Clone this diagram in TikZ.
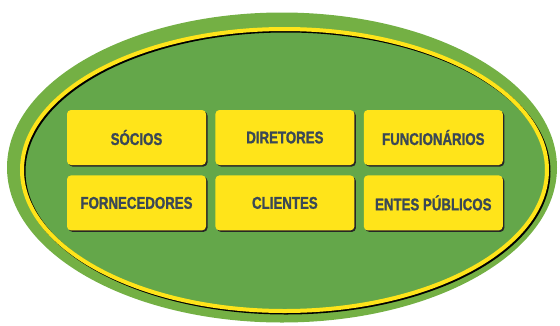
\documentclass[tikz,border=0pt]{standalone}
\usepackage{fontspec}
\newfontfamily\caixafont[FakeStretch=0.78,FakeBold=1.2]{Liberation Sans}
\usetikzlibrary{positioning,shadows}
\definecolor{verdefora}{HTML}{74B044}
\definecolor{verdedentro}{HTML}{64A74A}
\definecolor{amarelo}{HTML}{FFE41A}
\definecolor{textocaixa}{HTML}{3A4856}

\begin{document}
\begin{tikzpicture}[x=1pt,y=1pt,
    caixa/.style={rectangle, rounded corners=4pt, fill=amarelo,
        minimum width=139pt, minimum height=55pt, inner sep=0pt,
        general shadow={fill=black!85, shadow xshift=1.5pt, shadow yshift=-1.5pt},
        font=\caixafont\bfseries\fontsize{17}{17}\selectfont, text=textocaixa},
    node distance=10pt and 9pt]
    \useasboundingbox (0,0) rectangle (560,-325);

    % elipse verde com anel amarelo
    \fill[verdefora] (282,-167.5) ellipse [x radius=275, y radius=155];
    \fill[verdedentro] (284.5,-170) ellipse [x radius=260, y radius=139];
    \draw[black, line width=4pt] (286,-171.5) ellipse [x radius=262.5, y radius=141];
    \draw[amarelo, line width=4pt] (284.5,-170) ellipse [x radius=262.5, y radius=141];

    \node[caixa] (socios) at (136.5,-137.5) {SÓCIOS};
    \node[caixa, right=of socios] (diretores) {DIRETORES};
    \node[caixa, right=of diretores] (funcionarios) {FUNCIONÁRIOS};
    \node[caixa, below=of socios] (fornecedores) {FORNECEDORES};
    \node[caixa, right=of fornecedores] (clientes) {CLIENTES};
    \node[caixa, right=of clientes] (entes) {ENTES PÚBLICOS};
\end{tikzpicture}
\end{document}
